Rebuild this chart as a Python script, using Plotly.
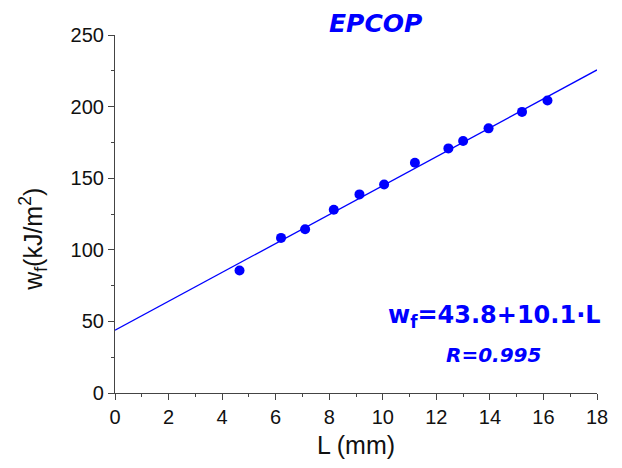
import plotly.graph_objects as go

L_mm = [4.65, 6.2, 7.1, 8.17, 9.13, 10.05, 11.2, 12.45, 13.0, 13.95, 15.2, 16.15]
wf = [85.5, 108.3, 114.4, 128.0, 138.7, 145.6, 160.8, 170.8, 176.0, 184.8, 196.3, 204.3]
fit_a = 43.8
fit_b = 10.1
fit_x = [0, 18]
fit_y = [fit_a + fit_b * v for v in fit_x]

blue = "#0000ff"
fig = go.Figure()
fig.add_trace(go.Scatter(x=fit_x, y=fit_y, mode="lines",
                         line=dict(color=blue, width=1.3), showlegend=False))
fig.add_trace(go.Scatter(x=L_mm, y=wf, mode="markers",
                         marker=dict(color=blue, size=10), showlegend=False))

axis_common = dict(showgrid=False, zeroline=False, showline=True,
                   linecolor="#444", linewidth=1.2, ticks="outside",
                   ticklen=6, tickcolor="#444", tickwidth=1.2,
                   tickfont=dict(family="Liberation Sans, Arial", size=20, color="#111"),
                   minor=dict(ticks="outside", ticklen=3, tickcolor="#444", tickwidth=1.2))

fig.update_xaxes(range=[0, 18], dtick=2, **axis_common,
                 title=dict(text="L (mm)", font=dict(family="Liberation Sans, Arial", size=25, color="#111"),
                            standoff=9))
fig.update_yaxes(range=[0, 250], dtick=50, **axis_common)
fig.update_xaxes(minor_dtick=1)
fig.update_yaxes(minor_dtick=25)

fig.add_annotation(x=-0.17, y=0.428, xref="paper", yref="paper", xanchor="center", yanchor="middle",
                   text="w<sub>f</sub>(kJ/m<sup>2</sup>)", textangle=-90, showarrow=False,
                   font=dict(family="Liberation Sans, Arial", size=25, color="#111"))
fig.add_annotation(x=0.54, y=1.033, xref="paper", yref="paper", xanchor="center", yanchor="middle",
                   text="<b><i>EPCOP</i></b>", showarrow=False,
                   font=dict(family="DejaVu Sans", size=25, color=blue))
fig.add_annotation(x=0.788, y=0.215, xref="paper", yref="paper", xanchor="center", yanchor="middle",
                   text="<b>w<sub>f</sub>=43.8+10.1·L</b>", showarrow=False,
                   font=dict(family="DejaVu Sans", size=24, color=blue))
fig.add_annotation(x=0.786, y=0.106, xref="paper", yref="paper", xanchor="center", yanchor="middle",
                   text="<b><i>R=0.995</i></b>", showarrow=False,
                   font=dict(family="DejaVu Sans", size=20, color=blue))

fig.update_layout(width=622, height=468, margin=dict(l=115, r=25, t=35, b=75),
                  plot_bgcolor="white", paper_bgcolor="white")
fig.write_html("out.html")
